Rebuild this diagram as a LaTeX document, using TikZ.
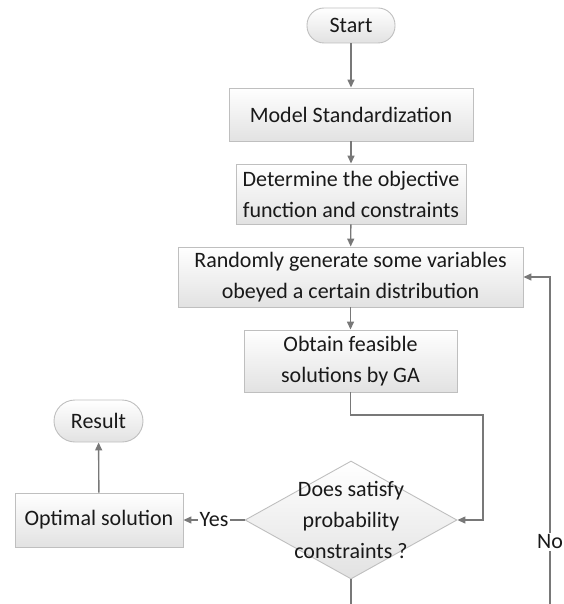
\documentclass[tikz,border=0pt]{standalone}
\usepackage{fontspec}
\setmainfont{Carlito}
\definecolor{fcedge}{RGB}{191,191,191}
\definecolor{fcline}{RGB}{120,120,120}
\definecolor{fcshade}{RGB}{226,226,226}
\definecolor{fctext}{RGB}{25,25,25}
\usetikzlibrary{arrows.meta,shapes.geometric}

\begin{document}
\begin{tikzpicture}[x=1pt,y=-1pt,font=\fontsize{22}{31}\selectfont,text=fctext,
  procbox/.style={draw=fcedge,line width=0.9pt,top color=white,bottom color=fcshade,align=center,inner sep=0pt},
  termbox/.style={procbox,rounded corners=#1},
  decision/.style={procbox,diamond,minimum width=212pt,minimum height=118pt},
  flow/.style={draw=fcline,line width=1.4pt,-{Triangle[length=8pt,width=7pt]}},
  plain/.style={draw=fcline,line width=1.4pt}]
  \useasboundingbox (0,0) rectangle (563,604);
  \node[termbox=17pt,minimum width=88pt,minimum height=35pt] (start) at (351,25.5) {Start};
  \node[procbox,minimum width=244pt,minimum height=53pt] (model) at (351,114.5) {Model Standardization};
  \node[procbox,minimum width=230pt,minimum height=60pt] (objective) at (351,194) {Determine the objective\\function and constraints};
  \node[procbox,minimum width=345pt,minimum height=60pt] (random) at (350.5,277) {Randomly generate some variables\\obeyed a certain distribution};
  \node[procbox,minimum width=213pt,minimum height=62pt] (ga) at (350.5,361) {Obtain feasible\\solutions by GA};
  \node[decision,label={[align=center]center:Does satisfy\\probability\\constraints ?}] (check) at (351,520) {};
  \node[procbox,minimum width=168pt,minimum height=54pt] (optimal) at (99,520) {Optimal solution};
  \node[termbox=21pt,minimum width=89pt,minimum height=42pt] (result) at (98.5,421) {Result};
  \coordinate (gabend) at (483,415);
  \coordinate (cutdown) at (351,604);
  \coordinate (cutloop) at (550,604);
  \draw[flow] (start) -- (model);
  \draw[flow] (model) -- (objective);
  \draw[flow] (objective) -- (random);
  \draw[flow] (random) -- (ga);
  \draw[flow] (ga.south) |- (gabend) |- (check.east);
  \draw[flow] (check.west) -- node[fill=white,inner sep=2pt] (yes) {Yes} (optimal.east);
  \draw[flow] (optimal) -- (result);
  \draw[plain] (check.south) -- (cutdown);
  \draw[flow] (cutloop) |- node[pos=0.095,fill=white,inner sep=2pt] (no) {No} (random.east);
\end{tikzpicture}
\end{document}
